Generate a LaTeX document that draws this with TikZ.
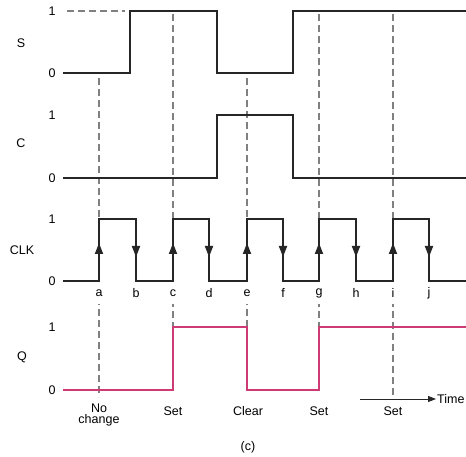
\documentclass[tikz,border=0pt]{standalone}
\usepackage{fontspec}
\setmainfont{Liberation Sans}
\usetikzlibrary{arrows.meta}

\definecolor{qpink}{RGB}{206,58,115}

\begin{document}
\begin{tikzpicture}[
  x=1pt, y=-1pt,
  font=\fontsize{12.5}{14}\selectfont,
  >={Triangle[length=11pt,width=8pt]},
  sig/.style={draw=black!85, line width=1.8pt, line join=miter},
  qsig/.style={sig, draw=qpink},
  guide/.style={draw=black!50, line width=1.3pt, dash pattern=on 7pt off 4pt},
  lvl/.style={anchor=center, inner sep=1pt},
  siglabel/.style={anchor=center},
  tick/.style={anchor=center, fill=white, inner xsep=2pt, inner ysep=0pt, minimum height=22pt},
  event/.style={anchor=center, align=center, inner sep=1pt},
  tip/.style={->, line width=1.8pt, black!85}
]
\useasboundingbox (0,0) rectangle (466,457);

% ---------- GUIDE LINES ----------
\draw[guide] (67,11) -- (125,11);
\draw[guide] (99,78)  -- (99,397);
\draw[guide] (173,14) -- (173,327);
\draw[guide] (247,78) -- (247,327);
\draw[guide] (319,14) -- (319,327);
\draw[guide] (393,14) -- (393,396);

% ---------- S ----------
\node[siglabel] (Slab) at (21,43) {S};
\node[lvl] (Shi) at (52,11) {1};
\node[lvl] (Slo) at (52,73) {0};
\draw[sig] (63,73) -- (130,73) -- (130,11) -- (217,11) -- (217,73)
  -- (293,73) -- (293,11) -- (466,11);

% ---------- C ----------
\node[siglabel] (Clab) at (21,143) {C};
\node[lvl] (Chi) at (52,115) {1};
\node[lvl] (Clo) at (52,178) {0};
\draw[sig] (63,178) -- (217,178) -- (217,115) -- (293,115) -- (293,178) -- (466,178);

% ---------- CLK (ticks first, so the edges stay on top) ----------
\foreach \x/\t in {99/a, 136/b, 173/c, 209/d, 247/e, 283/f, 319/g, 356/h, 393/i, 429/j}
  \node[tick] (t\t) at (\x,293) {\t};
\node[siglabel] (Klab) at (22,250) {CLK};
\node[lvl] (Khi) at (52,219) {1};
\node[lvl] (Klo) at (52,281) {0};
\draw[sig] (63,281) -- (99,281) -- (99,219) -- (136,219) -- (136,281)
  -- (173,281) -- (173,219) -- (209,219) -- (209,281)
  -- (247,281) -- (247,219) -- (283,219) -- (283,281)
  -- (319,281) -- (319,219) -- (356,219) -- (356,281)
  -- (393,281) -- (393,219) -- (429,219) -- (429,281) -- (466,281);
\foreach \r/\f in {99/136, 173/209, 247/283, 319/356, 393/429} {
  \draw[tip] (\r,257) -- (\r,243);
  \draw[tip] (\f,243) -- (\f,257);
}

% ---------- Q ----------
\node[siglabel] (Qlab) at (22,357) {Q};
\node[lvl] (Qhi) at (52,327) {1};
\node[lvl] (Qlo) at (52,390) {0};
\draw[qsig] (63,390) -- (173,390) -- (173,327) -- (247,327) -- (247,390)
  -- (319,390) -- (319,327) -- (466,327);

% ---------- Events ----------
\node[event, anchor=north] (nochange) at (99,403) {No\\[-3pt]change};
\node[event] (set1)  at (173,411) {Set};
\node[event] (clear) at (248,411) {Clear};
\node[event] (set2)  at (319,411) {Set};
\node[event] (set3)  at (393,411) {Set};

% ---------- Time axis ----------
\coordinate (tstart) at (360,399);
\node[anchor=west, inner sep=1pt] (time) at (436,399) {Time};
\draw[->, >={Triangle[length=8pt,width=6pt]}, line width=0.9pt, black!85] (tstart) -- (time.west);

\node (caption) at (248,447) {(c)};

\end{tikzpicture}
\end{document}
